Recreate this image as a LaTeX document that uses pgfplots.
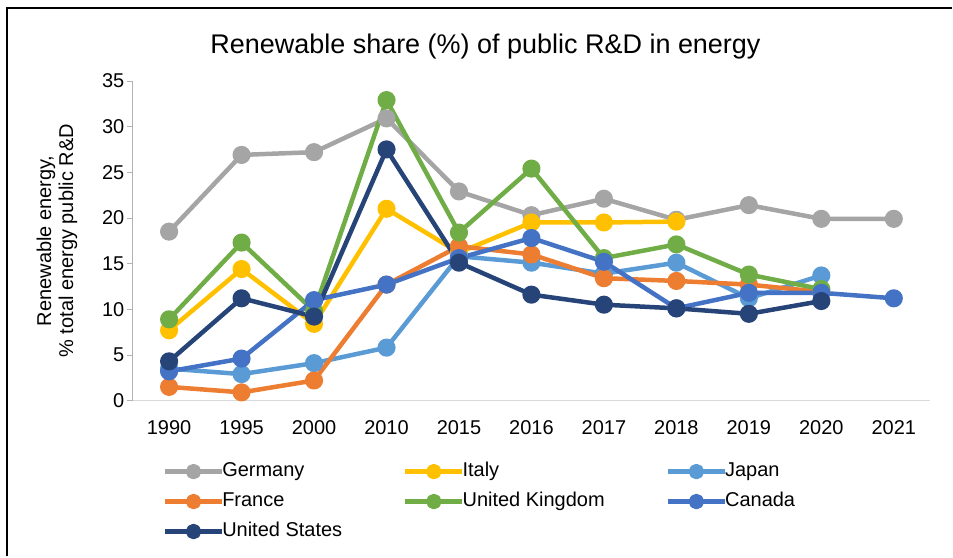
\documentclass[border=0pt]{standalone}
\usepackage{fontspec}
\setmainfont{Liberation Sans}
\usepackage{pgfplots}
\pgfplotsset{compat=1.18}
\definecolor{cGer}{HTML}{A5A5A5}
\definecolor{cIta}{HTML}{FFC000}
\definecolor{cJap}{HTML}{5B9BD5}
\definecolor{cFra}{HTML}{ED7D31}
\definecolor{cUK}{HTML}{70AD47}
\definecolor{cCan}{HTML}{4472C4}
\definecolor{cUS}{HTML}{264478}
\pgfplotsset{
  lgimg/.style={legend image code/.code={\draw[#1,line width=4.5pt] (0pt,0pt)--(57pt,0pt); \fill[#1] (28.5pt,0pt) circle (5.5pt);}},
}
\begin{document}
\begin{tikzpicture}
\path (0pt,0pt) rectangle (953pt,-557pt);
\draw[line width=2pt] (7.5pt,-557pt) -- (7.5pt,-8.5pt) -- (953pt,-8.5pt);
\node[font=\fontsize{27}{32}\selectfont] at (486pt,-47pt) {Renewable share (\%) of public R\&D in energy};
\node[rotate=90, align=center, font=\fontsize{20}{22}\selectfont] at (57pt,-241pt) {Renewable energy,\\\% total energy public R\&D};
\begin{axis}[
  at={(133pt,-401pt)}, anchor=south west,
  scale only axis, width=798pt, height=320pt,
  xmin=-0.5, xmax=10.5, ymin=0, ymax=35,
  xtick={0,...,10},
  xticklabels={1990,1995,2000,2010,2015,2016,2017,2018,2019,2020,2021},
  ytick={0,5,...,35},
  axis x line=bottom, axis y line=left,
  x axis line style={-, draw=black!15, line width=1.5pt},
  y axis line style={-, draw=black!30, line width=0.8pt},
  x tick style={draw=none},
  y tick style={draw=black!30, line width=0.8pt},
  tick align=outside, major tick length=6pt,
  ticklabel style={font=\fontsize{20}{24}\selectfont},
  yticklabel style={xshift=1pt},
  xticklabel style={yshift=-10pt},
  /pgf/number format/assume math mode=true,
  every axis plot/.append style={line width=4.5pt, mark=*, mark size=6.8pt, line join=round},
  legend columns=3,
  legend style={at={(0.0376,-0.194)}, anchor=north west, draw=none, fill=none, inner sep=0pt, outer sep=0pt,
    font=\fontsize{20}{24}\selectfont, row sep=12pt,
    nodes={inner sep=0pt, text height=14pt, text depth=4pt},
    /tikz/every odd column/.append style={column sep=-2pt},
    /tikz/every even column/.append style={column sep=61pt}},
  legend cell align=left,
]
\addplot[cGer, mark options={fill=cGer}, lgimg=cGer] coordinates {(0,18.5) (1,26.9) (2,27.2) (3,30.9) (4,22.9) (5,20.3) (6,22.1) (7,19.8) (8,21.4) (9,19.9) (10,19.9)};
\addlegendentry{Germany}
\addplot[cIta, mark options={fill=cIta}, lgimg=cIta] coordinates {(0,7.7) (1,14.4) (2,8.4) (3,21.0) (4,16.2) (5,19.5) (6,19.5) (7,19.6)};
\addlegendentry{Italy}
\addplot[cJap, mark options={fill=cJap}, lgimg=cJap] coordinates {(0,3.5) (1,2.9) (2,4.1) (3,5.8) (4,15.8) (5,15.1) (6,13.9) (7,15.1) (8,11.2) (9,13.7)};
\addlegendentry{Japan}
\addplot[cFra, mark options={fill=cFra}, lgimg=cFra] coordinates {(0,1.5) (1,0.9) (2,2.2) (3,12.7) (4,16.9) (5,16.0) (6,13.4) (7,13.1) (8,12.7) (9,11.9)};
\addlegendentry{France}
\addplot[cUK, mark options={fill=cUK}, lgimg=cUK] coordinates {(0,8.9) (1,17.3) (2,9.8) (3,32.9) (4,18.4) (5,25.4) (6,15.6) (7,17.1) (8,13.8) (9,12.2)};
\addlegendentry{United Kingdom}
\addplot[cCan, mark options={fill=cCan}, lgimg=cCan] coordinates {(0,3.2) (1,4.6) (2,11.0) (3,12.7) (4,15.6) (5,17.8) (6,15.2) (7,10.1) (8,11.8) (9,11.8) (10,11.2)};
\addlegendentry{Canada}
\addplot[cUS, mark options={fill=cUS}, lgimg=cUS] coordinates {(0,4.3) (1,11.2) (2,9.2) (3,27.5) (4,15.1) (5,11.6) (6,10.5) (7,10.1) (8,9.5) (9,10.9)};
\addlegendentry{United States}
\end{axis}
\end{tikzpicture}
\end{document}
